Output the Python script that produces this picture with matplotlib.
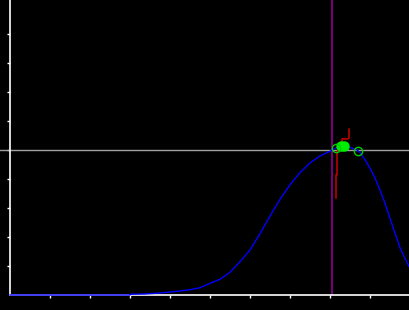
import matplotlib
matplotlib.use("Agg")
import matplotlib.pyplot as plt

# curve (x ticks every 1 unit, y ticks every 1 unit)
curve_x = [0.0, 3.0, 3.0, 3.375, 3.75, 4.0, 4.25, 4.5, 4.75, 5.0, 5.25, 5.5,
           5.75, 6.0, 6.25, 6.5, 6.75, 7.0, 7.25, 7.5, 7.75, 8.0, 8.125,
           8.25, 8.375, 8.5, 8.675, 8.75, 8.875, 9.0, 9.125, 9.25, 9.375,
           9.5, 9.625, 9.75, 9.875, 10.0]
curve_y = [0.0, 0.0, 0.025, 0.035, 0.069, 0.103, 0.138, 0.183, 0.252, 0.403,
           0.541, 0.783, 1.148, 1.552, 2.114, 2.72, 3.30, 3.80, 4.22,
           4.55, 4.793, 4.955, 5.05, 5.12, 5.14, 5.09, 5.0, 4.91, 4.66,
           4.37, 4.03, 3.62, 3.16, 2.64, 2.13, 1.63, 1.26, 0.92]

# red step trace
red_x = [8.15, 8.15, 8.175, 8.175, 8.3, 8.3, 8.45, 8.475, 8.475]
red_y = [3.345, 4.14, 4.14, 4.93, 5.24, 5.38, 5.38, 5.41, 5.72]

# hollow green markers and filled blob
ring_x = [8.14, 8.69]
ring_y = [5.06, 4.97]
blob_x = [8.28, 8.34]
blob_y = [5.12, 5.12]

cursor_x = 8.05
ref_y = 5.0
ticks = [1, 2, 3, 4, 5, 6, 7, 8, 9]
x_max = 10.0
y_max = 10.17

fig = plt.figure(figsize=(4.1, 3.1), dpi=100, facecolor="black")
ax = fig.add_axes([0, 0, 1, 1], facecolor="black")
ax.set_xlim(-0.25, x_max)
ax.set_ylim(-15 / 29, y_max)

for side in ["top", "right"]:
    ax.spines[side].set_visible(False)
ax.spines["left"].set_position(("data", 0))
ax.spines["bottom"].set_position(("data", 0))
ax.spines["left"].set_bounds(0, y_max)
ax.spines["bottom"].set_bounds(0, x_max)
for side in ["left", "bottom"]:
    ax.spines[side].set_color("white")
    ax.spines[side].set_linewidth(1.2)

ax.set_xticks(ticks)
ax.set_yticks(ticks)
ax.tick_params(direction="out", length=2.5, width=1, color="white",
               labelbottom=False, labelleft=False)

ax.axhline(ref_y, color="#a0a0a0", lw=1)
ax.plot([cursor_x, cursor_x], [0, y_max], color="#8c0096", lw=1.2)

ax.plot(curve_x, curve_y, color="#0000ff", lw=1, zorder=3)
ax.plot(red_x, red_y, color="#cc0000", lw=1.1, zorder=4)
ax.plot(blob_x, blob_y, "o", ms=6.5, color="#00ee00", mec="#00ee00", zorder=5)
ax.plot(ring_x, ring_y, "o", ms=6, mfc="none", mec="#00cc00", mew=1, zorder=6)

fig.savefig("out.png", dpi=100, facecolor="black")
